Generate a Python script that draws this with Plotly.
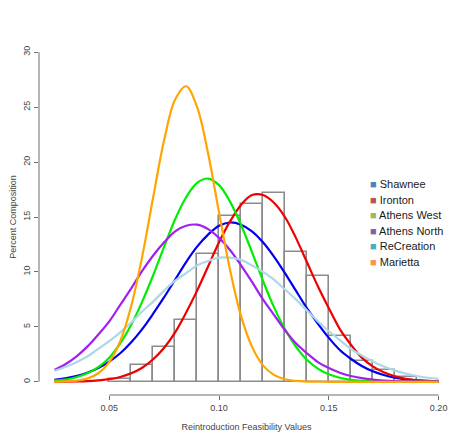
import plotly.graph_objects as go

# Histogram (percent composition per 0.01 bin)
bin_left = [0.05, 0.06, 0.07, 0.08, 0.09, 0.10, 0.11, 0.12, 0.13, 0.14, 0.15, 0.16, 0.17, 0.18]
bin_pct = [0.3, 1.5, 3.2, 5.6, 11.6, 15.1, 16.2, 17.2, 11.8, 9.6, 4.2, 1.85, 1.1, 0.4]
bin_width = 0.01

# Fitted curves, read at these x positions
curve_x = [0.025, 0.030, 0.035, 0.040, 0.045, 0.050, 0.055, 0.060, 0.065, 0.070,
           0.075, 0.080, 0.085, 0.090, 0.095, 0.100, 0.105, 0.110, 0.115, 0.120,
           0.125, 0.130, 0.135, 0.140, 0.145, 0.150, 0.155, 0.160, 0.165, 0.170,
           0.175, 0.180, 0.185, 0.190, 0.195, 0.200]
shawnee = [0.19, 0.32, 0.52, 0.82, 1.25, 1.84, 2.6, 3.6, 4.8, 6.2, 7.7, 9.3, 10.9, 12.3, 13.4,
           14.2, 14.5, 14.3, 13.7, 12.7, 11.4, 9.9, 8.3, 6.7, 5.3, 4.0, 2.9, 2.1, 1.44, 0.96,
           0.62, 0.38, 0.23, 0.13, 0.08, 0.04]
ironton = [0.01, 0.01, 0.03, 0.06, 0.13, 0.24, 0.44, 0.77, 1.28, 2.05, 3.1, 4.5, 6.3, 8.3, 10.5,
           12.7, 14.6, 16.1, 17.0, 17.0, 16.3, 15.0, 13.1, 10.9, 8.7, 6.7, 4.8, 3.4, 2.2, 1.4,
           0.86, 0.50, 0.27, 0.15, 0.07, 0.04]
athens_west = [0.10, 0.21, 0.42, 0.77, 1.34, 2.2, 3.5, 5.2, 7.3, 9.7, 12.3, 14.8, 16.8, 18.1, 18.5,
               17.9, 16.4, 14.3, 11.8, 9.2, 6.8, 4.8, 3.2, 2.0, 1.2, 0.68, 0.37, 0.19, 0.09, 0.04,
               0.02, 0.01, 0, 0, 0, 0]
athens_north = [1.08, 1.6, 2.3, 3.2, 4.3, 5.5, 7.0, 8.5, 10.1, 11.5, 12.7, 13.7, 14.2, 14.3, 13.9,
                13.1, 12.0, 10.6, 9.1, 7.5, 6.1, 4.7, 3.5, 2.6, 1.8, 1.25, 0.83, 0.53, 0.33, 0.20,
                0.12, 0.07, 0.04, 0.02, 0.01, 0.01]
recreation = [1.0, 1.35, 1.79, 2.3, 3.0, 3.7, 4.5, 5.4, 6.4, 7.3, 8.3, 9.2, 9.9, 10.6, 11.0,
              11.3, 11.3, 11.1, 10.6, 10.0, 9.3, 8.4, 7.5, 6.5, 5.5, 4.6, 3.8, 3.0, 2.4, 1.85,
              1.4, 1.04, 0.75, 0.53, 0.37, 0.26]
marietta = [0.01, 0.03, 0.10, 0.30, 0.78, 1.8, 3.7, 6.9, 11.4, 16.8, 22.0, 25.7, 26.9, 25.0, 20.8,
            15.4, 10.2, 6.0, 3.2, 1.5, 0.63, 0.23, 0.08, 0.02, 0.01, 0, 0, 0, 0, 0,
            0, 0, 0, 0, 0, 0]

series_names = ["Shawnee", "Ironton", "Athens West", "Athens North", "ReCreation", "Marietta"]
series_values = [shawnee, ironton, athens_west, athens_north, recreation, marietta]
curve_colors = ["#0000ee", "#ee0000", "#00ee00", "#a020f0", "#add8e6", "#ffa500"]
legend_colors = ["#4f81bd", "#c0504d", "#9bbb59", "#8064a2", "#4bacc6", "#f79646"]

x_ticks = [0.05, 0.10, 0.15, 0.20]
x_tick_text = ["0.05", "0.10", "0.15", "0.20"]
y_ticks = [0, 5, 10, 15, 20, 25, 30]

fig = go.Figure()

fig.add_trace(go.Bar(
    x=[b + bin_width / 2 for b in bin_left], y=bin_pct, width=bin_width,
    marker=dict(color="rgba(0,0,0,0)", line=dict(color="#8c8c8c", width=1.6)),
    showlegend=False, hoverinfo="skip",
))

for name, vals, col in zip(series_names, series_values, curve_colors):
    fig.add_trace(go.Scatter(
        x=curve_x, y=vals, mode="lines", name=name,
        line=dict(color=col, width=2.2, shape="spline", smoothing=1.0),
        showlegend=False,
    ))

axis_col = "#6e6e6e"
tick_font = dict(family="Liberation Sans, Arial, sans-serif", size=9, color="#444444")

# page body has an 8px default margin, so the figure is sized/offset to compensate
W, H = 466, 436
ML, MR, MT, MB = 31, 20, 31, 49
PW, PH = W - ML - MR, H - MT - MB

fig.update_layout(
    width=W, height=H,
    margin=dict(l=ML, r=MR, t=MT, b=MB, pad=0),
    plot_bgcolor="white", paper_bgcolor="white",
    showlegend=False,
    bargap=0,
    xaxis=dict(
        range=[0.018, 0.207], showgrid=False, zeroline=False, showline=False,
        tickvals=x_ticks, ticktext=x_tick_text, ticks="outside", ticklen=4,
        tickcolor=axis_col, tickwidth=1, tickfont=tick_font,
        title=dict(text="Reintroduction Feasibility Values", font=tick_font, standoff=11),
        automargin=False,
    ),
    yaxis=dict(
        range=[-1.2, 31.2], showgrid=False, zeroline=False, showline=False,
        tickvals=y_ticks, ticks="outside", ticklen=4, tickangle=-90,
        tickcolor=axis_col, tickwidth=1, tickfont=tick_font,
        title=dict(text="Percent Composition", font=tick_font, standoff=13),
        automargin=False,
    ),
)

# R-style axis lines spanning only the tick range
fig.add_shape(type="line", xref="x", yref="paper", x0=x_ticks[0], x1=x_ticks[-1], y0=0, y1=0,
              line=dict(color=axis_col, width=1))
fig.add_shape(type="line", xref="paper", yref="y", x0=0, x1=0, y0=y_ticks[0], y1=y_ticks[-1],
              line=dict(color=axis_col, width=1))

# Legend (square markers + labels); positions in page pixels converted to paper coords
leg_left_px = 368 - 8
leg_top_px = 184 - 8
leg_step_px = 15.6
for i, (name, col) in enumerate(zip(series_names, legend_colors)):
    ypx = leg_top_px + i * leg_step_px
    yp = 1 - (ypx - MT) / PH
    fig.add_annotation(
        xref="paper", yref="paper", x=(leg_left_px - ML) / PW, y=yp, xanchor="left", yanchor="middle",
        text=f"<span style='color:{col}'>■</span> {name}", showarrow=False,
        font=dict(family="Liberation Sans, Arial, sans-serif", size=11, color="#1a1a1a"),
    )

fig.write_html("out.html")
